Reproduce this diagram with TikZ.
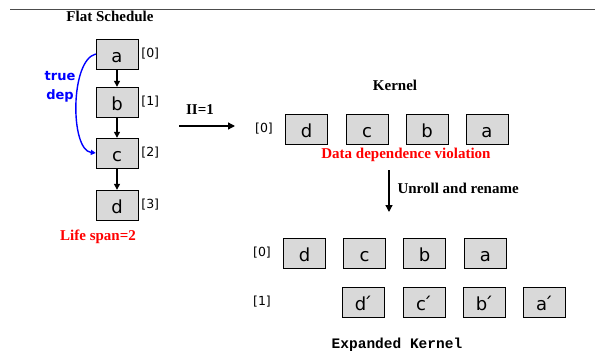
\documentclass[tikz,border=0pt]{standalone}
\usepackage{fontspec}
\setmainfont{Liberation Serif}
\setsansfont{DejaVu Sans}
\setmonofont{Liberation Mono}
\usetikzlibrary{positioning,arrows.meta}
\begin{document}
\begin{tikzpicture}[x=1pt, y=-1pt, >={Triangle[width=7pt,length=7pt]}, node distance=2pt,
  op node/.style={rectangle, draw, fill=black!15, minimum width=42pt, minimum height=30pt, inner sep=0pt,
    text height=17pt, text depth=0pt, font=\sffamily\fontsize{18}{18}\selectfont},
  idx/.style={font=\sffamily\fontsize{12.5}{12.5}\selectfont, inner sep=1pt},
  title/.style={font=\bfseries\fontsize{15}{15}\selectfont},
  flow/.style={->, line width=1.3pt}]
        \tikzstyle{every node}=[font=\small]
        \useasboundingbox (0,0) rectangle (595,351);
        \draw[black!70] (10,9) -- (595,9);

        % flat schedule
        \node[title] (fs) at (110,16) {Flat Schedule};
        \node[op node] (1) at (117,54) {a};
        \node[op node] (2) at (117,102) {b};
        \node[op node] (3) at (117,153) {c};
        \node[op node] (4) at (117,205) {d};
        \node[idx] (i1) [right=of 1] {[0]};
        \node[idx] (i2) [right=of 2] {[1]};
        \node[idx] (i3) [right=of 3] {[2]};
        \node[idx] (i4) [right=of 4] {[3]};
        \path[flow, >={Triangle[width=6pt,length=6pt]}]
            (1) edge (2)
            (2) edge (3)
            (3) edge (4);
        \draw[->, >={Triangle[width=5pt,length=5pt]}, blue, line width=1.4pt] (1.west) .. controls (70,60) and (70,150) .. (3.west);
        \node[font=\sffamily\bfseries\fontsize{13}{19}\selectfont, text=blue, align=center] (td) at (60,87) {true\\dep};
        \node[title, text=red] (ls) at (98,237) {Life span=2};

        % II=1
        \coordinate (s) at (179,126);
        \coordinate (t) at (235,126);
        \draw[flow] (s) -- (t);
        \node[title] (ii) at (200,110) {II=1};

        % kernel
        \node[title] (kt) at (395,85) {Kernel};
        \node[op node] (k1) at (306.5,129) {d};
        \node[op node] (k2) at (367,129) {c};
        \node[op node] (k3) at (427,129) {b};
        \node[op node] (k4) at (487,129) {a};
        \node[idx] (k0) at (264,129) {[0]};
        \node[title, text=red] (dv) at (406,155) {Data dependence violation};
        \coordinate (u1) at (389,170);
        \coordinate (u2) at (389,212);
        \draw[flow] (u1) -- (u2);
        \node[title, anchor=west] (ur) at (394,188) {Unroll and rename};

        % expanded kernel
        \node[op node] (e1) at (304.5,253) {d};
        \node[op node] (e2) at (364.5,253) {c};
        \node[op node] (e3) at (424.5,253) {b};
        \node[op node] (e4) at (485.5,253) {a};
        \node[op node] (f1) at (363.5,302) {d\'{}};
        \node[op node] (f2) at (424,302) {c\'{}};
        \node[op node] (f3) at (484.5,302) {b\'{}};
        \node[op node] (f4) at (544.5,302) {a\'{}};
        \node[idx] (e0) at (262,253) {[0]};
        \node[idx] (f0) at (262,302) {[1]};
        \node[font=\ttfamily\bfseries\fontsize{14.5}{14.5}\selectfont] (ek) at (397,345) {Expanded Kernel};
\end{tikzpicture}
\end{document}
